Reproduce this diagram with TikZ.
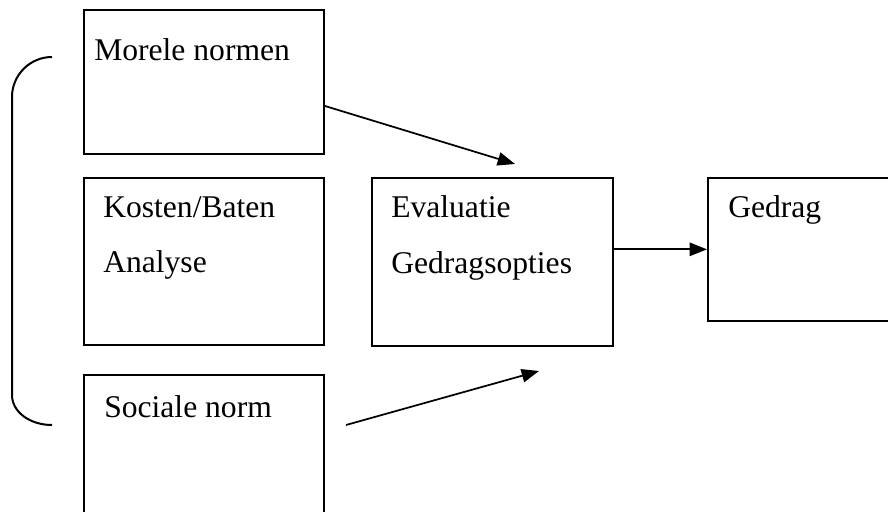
\documentclass[tikz,border=0pt]{standalone}
\usepackage{fontspec}
\setmainfont{Liberation Serif}
\usepackage{tikz}
\usetikzlibrary{arrows.meta}

\begin{document}
\begin{tikzpicture}[x=0.75pt,y=-0.75pt]
\tikzset{box/.style = {shape=rectangle,draw,line width=1.5pt,anchor=north west,inner sep=0pt}}
\tikzset{txt/.style = {anchor=base west,inner sep=0pt,font=\fontsize{23.7}{28}\selectfont}}
\tikzset{edge/.style = {-{Triangle[length=13pt,width=10pt]},line width=1.3pt}}
\clip (0,0) rectangle (888,511);
\node[box,minimum width=180pt,minimum height=108pt](moral) at (83,9) {};
\node[box,minimum width=180pt,minimum height=125pt](cost) at (83,177) {};
\node[box,minimum width=180pt,minimum height=150pt](social) at (83,374) {};
\node[box,minimum width=181pt,minimum height=126pt](eval) at (371,177) {};
\node[box,minimum width=150pt,minimum height=107pt](behav) at (707,177) {};
\node[txt](moraltext) at (94,60) {Morele normen};
\node[txt](costtext) at (103,217) {Kosten/Baten};
\node[txt](costtext2) at (103,272) {Analyse};
\node[txt](socialtext) at (104,417) {Sociale norm};
\node[txt](evaltext) at (391,217) {Evaluatie};
\node[txt](evaltext2) at (391,273) {Gedragsopties};
\node[txt](behavtext) at (728,217) {Gedrag};
\coordinate (moralend) at (515,164);
\coordinate (socialstart) at (346,425);
\coordinate (socialend) at (539,371);
\draw[edge] ([yshift=-18pt]moral.east) -- (moralend);
\draw[edge] (socialstart) -- (socialend);
\draw[edge] (eval.east |- behav.west) -- (behav.west);
% brace round the three inputs
\draw[line width=1.5pt] (52,57) .. controls (30,57) and (12,75) .. (12,97) -- (12,395)
  .. controls (12,412) and (30,425) .. (52,425);
\end{tikzpicture}
\end{document}
